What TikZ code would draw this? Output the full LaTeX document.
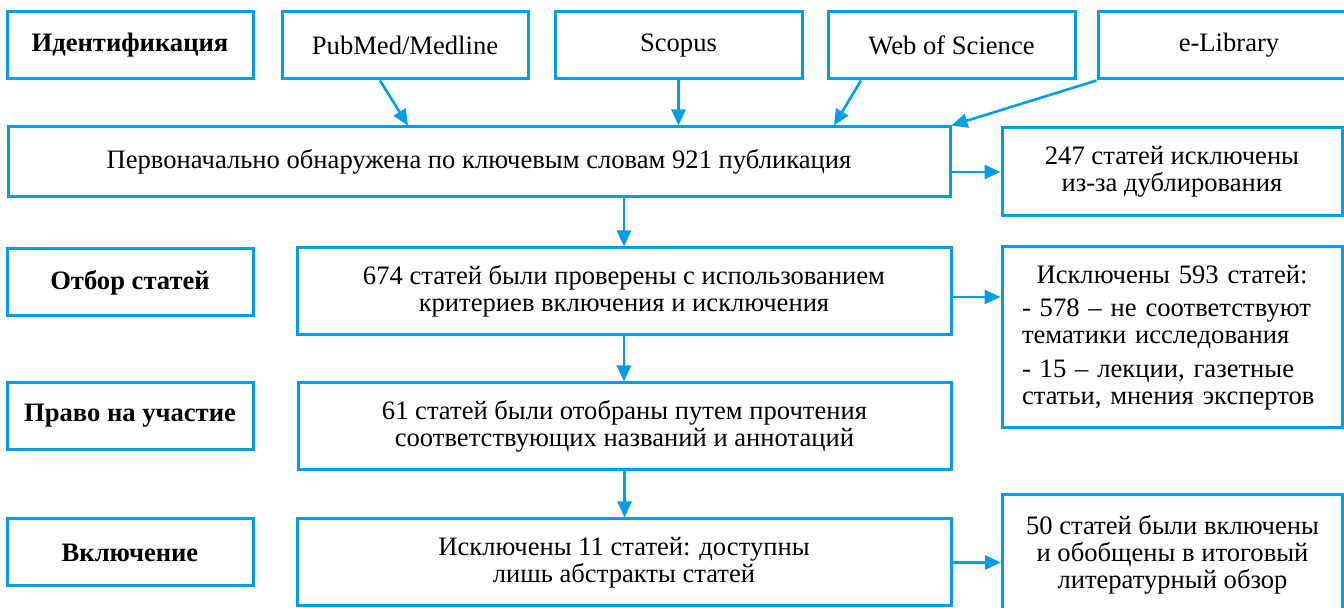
\documentclass[tikz,border=0pt]{standalone}
\usepackage{fontspec}
\setmainfont{Liberation Serif}
\usetikzlibrary{arrows.meta}
\definecolor{prisma}{HTML}{009FE3}
\tikzset{
  blk/.style={draw=prisma, line width=1.5pt, align=center, inner sep=0pt,
    font=\fontsize{13.3}{13.4}\selectfont},
  stage/.style={blk, font=\fontsize{13.3}{13.4}\selectfont\bfseries,
    minimum width=123pt, minimum height=33.5pt},
  src/.style={blk, minimum width=123pt, minimum height=33.5pt},
  arr/.style={draw=prisma, line width=1.3pt, -{Triangle[length=8pt,width=7pt]}}
}

\begin{document}
\begin{tikzpicture}[x=0.5pt,y=-0.5pt]
  \useasboundingbox (0,0) rectangle (1344,608);

  % stages on the left
  \node[stage] (ident) at (130,45.5) {Идентификация};
  \node[stage] (otbor) at (130,282.5) {Отбор статей};
  \node[stage] (pravo) at (130,416) {Право на участие};
  \node[stage] (vkl) at (130,552.5) {Включение};

  % databases
  \node[src] (pubmed) at (405,45.5) {PubMed/Medline};
  \node[src, minimum width=123.5pt] (scopus) at (678.5,45.5) {Scopus};
  \node[src, minimum width=123.5pt] (wos) at (951.5,45.5) {Web of Science};
  \node[src, minimum width=131pt] (elib) at (1229,45.5) {e-Library};

  % main column
  \node[blk, minimum width=471pt, minimum height=35pt] (main) at (479,162)
    {Первоначально обнаружена по ключевым словам 921 публикация};
  \node[blk, minimum width=327pt, minimum height=43.5pt] (check) at (624,291.5)
    {674 статей были проверены с использованием\\критериев включения и исключения};
  \node[blk, minimum width=326.5pt, minimum height=43.5pt] (title) at (624.5,426.5)
    {61 статей были отобраны путем прочтения\\соответствующих названий и аннотаций};
  \node[blk, minimum width=327pt, minimum height=43.5pt] (abstr) at (624,562.5)
    {Исключены 11 статей: доступны\\лишь абстракты статей};

  % right column
  \node[blk, minimum width=170pt, minimum height=44pt] (dup) at (1172,172)
    {247 статей исключены\\из-за дублирования};
  \node[blk, minimum width=170pt, minimum height=90.5pt, text width=150pt, align=left] (excl) at (1172,337.5)
    {\centerline{Исключены 593 статей:}\\[3.5pt]
     - 578 – не соответствуют\\тематики исследования\\[3.5pt]
     - 15 – лекции, газетные\\статьи, мнения экспертов};
  \node[blk, minimum width=170pt, minimum height=60pt] (final) at (1172.5,555)
    {50 статей были включены\\и обобщены в итоговый\\литературный обзор};

  % arrows
  \draw[arr] ([xshift=-12.5pt]pubmed.south) -- ([xshift=-35.5pt]main.north);
  \draw[arr] (scopus.south) -- (main.north -| scopus.south);
  \draw[arr] ([xshift=-45.25pt]wos.south) -- ([xshift=177.5pt]main.north);
  \draw[arr] (elib.south west) -- (main.north east);

  \draw[arr] (main.east |- dup.west) -- (dup.west);
  \draw[arr] (main.south -| check.north) -- (check.north);
  \draw[arr] ([yshift=-2.75pt]check.east) -- ([yshift=-2.75pt]check.east -| excl.west);
  \draw[arr] (check.south) -- (title.north -| check.south);
  \draw[arr] (title.south) -- (abstr.north -| title.south);
  \draw[arr] (abstr.east) -- (abstr.east -| final.west);

\end{tikzpicture}
\end{document}
